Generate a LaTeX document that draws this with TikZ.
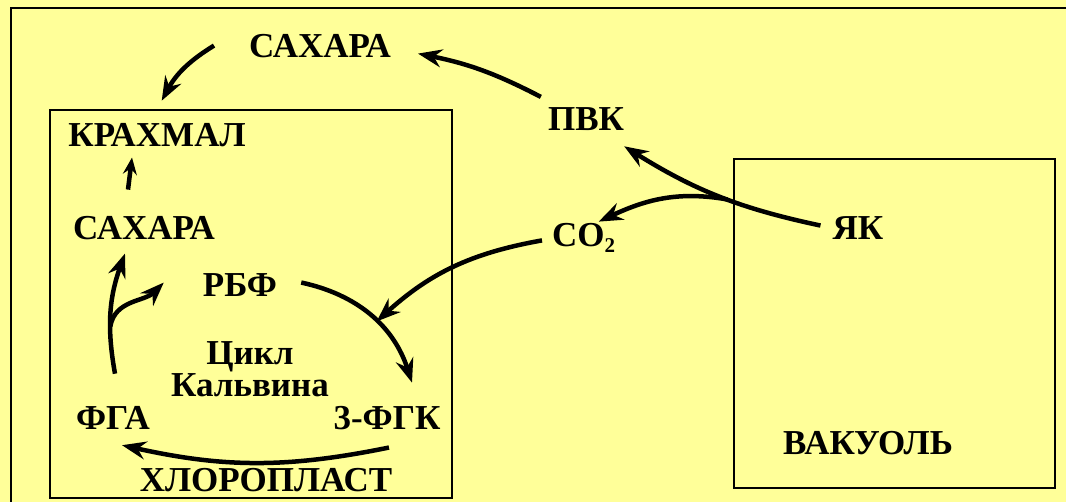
\documentclass[tikz,border=0pt]{standalone}
\usepackage{fontspec}
\setmainfont{Liberation Serif}
\usetikzlibrary{arrows.meta}
\definecolor{paper}{RGB}{255,255,153}

\begin{document}
\begin{tikzpicture}[x=1pt,y=-1pt,
    lbl/.style={font=\fontsize{35}{32}\selectfont\bfseries,inner sep=0pt,anchor=base},
    box/.style={draw,line width=2.6pt,inner sep=0pt},
    arr/.style={-{Stealth[length=24pt,width=18pt,inset=8pt]},line width=4.5pt}]

  \useasboundingbox (0,0) rectangle (1066,502);
  \clip (0,0) rectangle (1066,502);
  \fill[paper] (-20,-20) rectangle (1090,530);
  \draw[line width=2.6pt] (11,530) -- (11,8) -- (1100,8);

  \node[box,minimum width=402pt,minimum height=388pt] (chl) at (251,304) {};
  \node[box,minimum width=321pt,minimum height=329pt] (vac) at (894.5,323.5) {};

  \node[lbl] (sug1) at (320,58) {САХАРА};
  \node[lbl] (starch) at (157,147) {КРАХМАЛ};
  \node[lbl] (sug2) at (144,240) {САХАРА};
  \node[lbl] (rbf) at (240,297) {РБФ};
  \node[lbl,anchor=center,align=center] (cyc) at (250,369) {Цикл\\Кальвина};
  \node[lbl] (fga) at (113,430) {ФГА};
  \node[lbl] (fgk) at (387,430) {3-ФГК};
  \node[lbl] (chlname) at (266,491) {ХЛОРОПЛАСТ};
  \node[lbl] (pvk) at (586,131) {ПВК};
  \node[lbl,anchor=base west] (co2) at (552,247) {CO\raisebox{-6pt}{\fontsize{21}{21}\selectfont 2}};
  \node[lbl] (yak) at (858,240) {ЯК};
  \node[lbl] (vacname) at (868,455) {ВАКУОЛЬ};

  % outside the chloroplast
  \draw[arr] ([shift={(-35,-1)}]sug1.west) to[bend right=15] ([shift={(113,-8)}]chl.north west);
  \draw[arr] ([shift={(-7,-11)}]pvk.north west) to[bend right=8] ([shift={(27,7)}]sug1.east);
  \draw[arr] ([shift={(-12,-3)}]yak.west) to[bend left=10] coordinate[pos=0.45] (fork) ([shift={(0,15)}]pvk.south east);
  \draw[arr] (fork) to[out=170,in=25] ([shift={(15,-2)}]co2.north);

  % Calvin cycle
  \draw[arr] ([shift={(24,-3)}]rbf.east) to[bend left=30] coordinate[pos=0.55] (hit) ([shift={(25,-24)}]fgk.north);
  \draw[arr] ([shift={(-10,2)}]co2.west) to[bend right=16] (hit);
  \draw[arr] ([shift={(2,17)}]fgk.south) to[bend left=12] ([shift={(9,15)}]fga.south);
  \draw[arr] ([shift={(2,-33)}]fga.north) to[bend left=15] coordinate[pos=0.38] (split) ([shift={(-19,13)}]sug2.south);
  \draw[arr] (split) to[out=80,in=225] ([shift={(-39,-3)}]rbf.west);
  \draw[arr,-{Stealth[length=17pt,width=14pt,inset=6pt]}] ([shift={(-16,-27)}]sug2.north) -- ([shift={(-25,10)}]starch.south);

\end{tikzpicture}
\end{document}
